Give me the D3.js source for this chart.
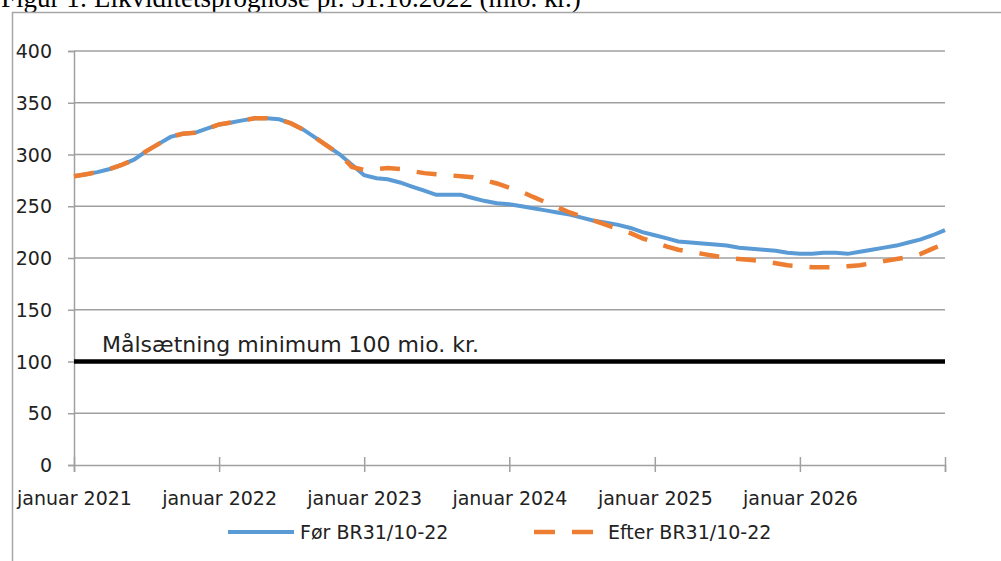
<!DOCTYPE html>
<html>
<head>
<meta charset="utf-8">
<script src="https://cdn.jsdelivr.net/npm/d3@7"></script>
<style>
  body { margin: 0; background: #fff; }
  svg { display: block; }
  .tick text { font-family: "DejaVu Sans", sans-serif; font-size: 19px; fill: #222; }
  .label { font-family: "DejaVu Sans", sans-serif; fill: #222; }
</style>
</head>
<body>
<svg width="1001" height="561"></svg>
<script>
// monthly values, januar 2021 .. januar 2027 (mio. kr.)
const before = [
  279, 281, 283, 286, 290, 295, 303, 310, 317, 320, 321, 325,
  329, 331, 333, 335, 335, 334, 330, 324, 316, 308, 300, 290,
  280, 277, 276, 273, 269, 265, 261, 261, 261, 258, 255, 253,
  252, 250, 248, 246, 244, 242, 239, 236, 234, 232, 229, 225,
  222, 219, 216, 215, 214, 213, 212, 210, 209, 208, 207, 205,
  204, 204, 205, 205, 204, 206, 208, 210, 212, 215, 218, 222,
  227
]
const after = [
  279, 281, 283, 286, 290, 295, 303, 310, 317, 320, 321, 325,
  329, 331, 333, 335, 335, 334, 330, 324, 316, 308, 300, 288,
  285, 286, 287, 286, 284, 282, 281, 280, 279, 278, 275, 272,
  268, 264, 259, 254, 249, 244, 240, 236, 232, 228, 224, 219,
  215, 211, 208, 206, 204, 202, 200, 199, 198, 197, 195, 193,
  192, 191, 191, 191, 192, 193, 195, 197, 199, 201, 204, 209,
  214
]
const years = [2021, 2022, 2023, 2024, 2025, 2026, 2027]
const xTickLabels = ['januar 2021', 'januar 2022', 'januar 2023', 'januar 2024', 'januar 2025', 'januar 2026', '']
const yTicks = [0, 50, 100, 150, 200, 250, 300, 350, 400]
const target = 100
const seriesNames = ['Før BR31/10-22', 'Efter BR31/10-22']

const months = d3.timeMonth.range(new Date(2021, 0, 1), new Date(2027, 0, 2))

const svg = d3.select('svg')

// title (cut off at the top edge, as in the source) and frame
svg.append('text')
  .attr('x', 1)
  .attr('y', 7)
  .attr('font-family', '"Liberation Serif", serif')
  .attr('font-size', 27)
  .attr('fill', '#000')
  .text('Figur 1: Likviditetsprognose pr. 31.10.2022 (mio. kr.)')

svg.append('path')
  .attr('d', 'M12.5,561 V12.5 H1001')
  .attr('fill', 'none')
  .attr('stroke', '#a6a6a6')
  .attr('stroke-width', 1.5)

const x = d3.scaleTime()
  .domain([new Date(2021, 0, 1), new Date(2027, 0, 1)])
  .range([74, 945])

const y = d3.scaleLinear()
  .domain([0, 400])
  .range([465, 51])

// y axis with gridlines
const yAxis = svg.append('g')
  .attr('transform', 'translate(74,0)')
  .call(d3.axisLeft(y).tickValues(yTicks).tickSize(6).tickPadding(16))
yAxis.select('.domain').attr('stroke', '#a0a0a0').attr('stroke-width', 1.5)
yAxis.selectAll('.tick line').attr('stroke', '#a0a0a0').attr('stroke-width', 1.5)
yAxis.selectAll('.tick text').attr('dy', '0.35em')

svg.append('g')
  .selectAll('line')
  .data(yTicks.filter(d => d > 0))
  .join('line')
  .attr('x1', 74)
  .attr('x2', 945)
  .attr('y1', d => y(d))
  .attr('y2', d => y(d))
  .attr('stroke', '#a0a0a0')
  .attr('stroke-width', 1.5)

// x axis, ticks crossing the axis
const xAxis = svg.append('g')
  .attr('transform', `translate(0,${y(0)})`)
  .call(d3.axisBottom(x)
    .tickValues(years.map(yr => new Date(yr, 0, 1)))
    .tickFormat((d, i) => xTickLabels[i])
    .tickSize(7)
    .tickPadding(20))
xAxis.select('.domain').attr('stroke', '#a0a0a0').attr('stroke-width', 1.5)
xAxis.selectAll('.tick line').attr('stroke', '#a0a0a0').attr('stroke-width', 1.5).attr('y1', -8)

// target line
svg.append('line')
  .attr('x1', 74)
  .attr('x2', 945)
  .attr('y1', y(target))
  .attr('y2', y(target))
  .attr('stroke', '#000')
  .attr('stroke-width', 4.5)

svg.append('text')
  .attr('class', 'label')
  .attr('x', 102)
  .attr('y', y(target) - 10)
  .attr('font-size', 22)
  .text('Målsætning minimum 100 mio. kr.')

const line = d3.line()
  .x((d, i) => x(months[i]))
  .y(d => y(d))

svg.append('path')
  .datum(before)
  .attr('d', line)
  .attr('fill', 'none')
  .attr('stroke', '#5b9bd5')
  .attr('stroke-width', 4)

svg.append('path')
  .datum(after)
  .attr('d', line)
  .attr('fill', 'none')
  .attr('stroke', '#ed7d31')
  .attr('stroke-width', 4.5)
  .attr('stroke-dasharray', '20,17')

// legend
const legend = svg.append('g')

legend.append('line')
  .attr('x1', 228).attr('x2', 294)
  .attr('y1', 532).attr('y2', 532)
  .attr('stroke', '#5b9bd5')
  .attr('stroke-width', 4)

legend.append('text')
  .attr('class', 'label')
  .attr('x', 300)
  .attr('y', 539)
  .attr('font-size', 19)
  .text(seriesNames[0])

legend.append('line')
  .attr('x1', 534).attr('x2', 594)
  .attr('y1', 532).attr('y2', 532)
  .attr('stroke', '#ed7d31')
  .attr('stroke-width', 4.5)
  .attr('stroke-dasharray', '21,17')

legend.append('text')
  .attr('class', 'label')
  .attr('x', 608)
  .attr('y', 539)
  .attr('font-size', 19)
  .text(seriesNames[1])
</script>
</body>
</html>
